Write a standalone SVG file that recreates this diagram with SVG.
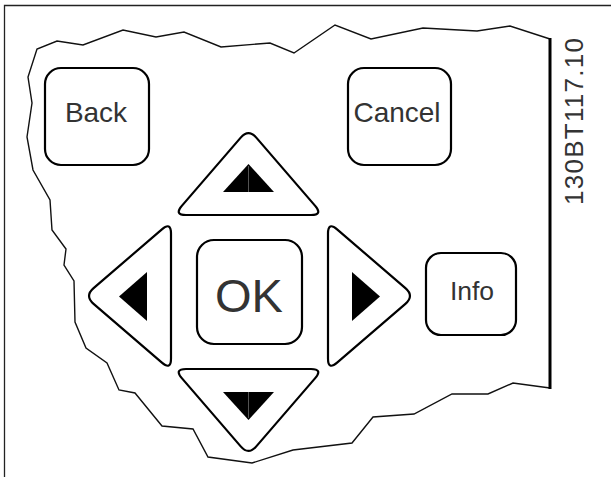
<svg xmlns="http://www.w3.org/2000/svg" width="611" height="477" viewBox="0 0 611 477">
<style>
.frame{fill:none;stroke:#222;stroke-width:1.3}
.outline{fill:none;stroke:#111;stroke-width:1.4;stroke-linejoin:miter}
.edge{fill:none;stroke:#000;stroke-width:3}
.btn{fill:#fff;stroke:#000;stroke-width:2.2;stroke-linejoin:round}
.glyph{fill:#000;stroke:none}
.seam{stroke:#777;stroke-width:0.7}
.lbl{font-family:"Liberation Sans",Arial,sans-serif;fill:#333;text-anchor:middle}
</style>
<rect width="611" height="477" fill="#fff"/>
<g id="frame">
<path class="frame" d="M611,5.5 H4.5 V477"/>
</g>
<g id="keypad-outline">
<path class="outline" d="M550,39 L510,26 L477,31 L423,28 L371,39 L335,25 L294,53 L270,43 L221,47 L184,32 L156,37 L123,30 L83,45 L57,41 L37,49 L28,77 L32,103 L27,137 L33,170 L50,200 L52,230 L66,249 L64,265 L74,281 L75,322 L86,348 L107,363 L119,390 L135,393 L162,426 L193,429 L208,457 L252,463 L293,450 L352,443 L373,417 L414,414 L452,394 L488,394 L513,383 L550,388"/>
<path class="edge" d="M550,38 V389"/>
</g>
<g id="btn-back">
<rect class="btn" x="45" y="68" width="104" height="97" rx="16"/>
<text class="lbl" x="96" y="122" font-size="28">Back</text>
</g>
<g id="btn-cancel">
<rect class="btn" x="348" y="68" width="103" height="97" rx="16"/>
<text class="lbl" x="397" y="122" font-size="28">Cancel</text>
</g>
<g id="btn-up">
<path class="btn" d="M256.3,137.6 L315.2,205.9 Q323,215 311,215 L186,215 Q174,215 181.8,205.9 L240.7,137.6 Q248.5,128.5 256.3,137.6 Z"/>
<polygon class="glyph" points="248.5,164 274,192 223,192"/>
<line class="seam" x1="248.5" y1="166" x2="248.5" y2="192"/>
</g>
<g id="btn-left">
<path class="btn" d="M93.6,288.2 L161.9,229.3 Q171,221.5 171,233.5 L171,358.5 Q171,370.5 161.9,362.7 L93.6,303.8 Q84.5,296 93.6,288.2 Z"/>
<polygon class="glyph" points="147,272 147,321 119,296.5"/>
</g>
<g id="btn-ok">
<rect class="btn" x="197" y="240" width="105" height="104" rx="17"/>
<text class="lbl" x="249" y="312" font-size="47">OK</text>
</g>
<g id="btn-right">
<path class="btn" d="M405.4,288.2 L337.1,229.3 Q328,221.5 328,233.5 L328,358.5 Q328,370.5 337.1,362.7 L405.4,303.8 Q414.5,296 405.4,288.2 Z"/>
<polygon class="glyph" points="352,272 352,321 380,296.5"/>
</g>
<g id="btn-info">
<rect class="btn" x="426" y="253" width="90" height="82" rx="15"/>
<text class="lbl" x="472" y="300" font-size="26.5">Info</text>
</g>
<g id="btn-down">
<path class="btn" d="M256.3,446.4 L315.2,378.1 Q323,369 311,369 L186,369 Q174,369 181.8,378.1 L240.7,446.4 Q248.5,455.5 256.3,446.4 Z"/>
<polygon class="glyph" points="223,392 274,392 248.5,420"/>
<line class="seam" x1="248.5" y1="392" x2="248.5" y2="418"/>
</g>
<g id="code-label">
<text class="lbl" transform="translate(583,121.5) rotate(-90)" x="0" y="0" font-size="26" textLength="167">130BT117.10</text>
</g>
</svg>
